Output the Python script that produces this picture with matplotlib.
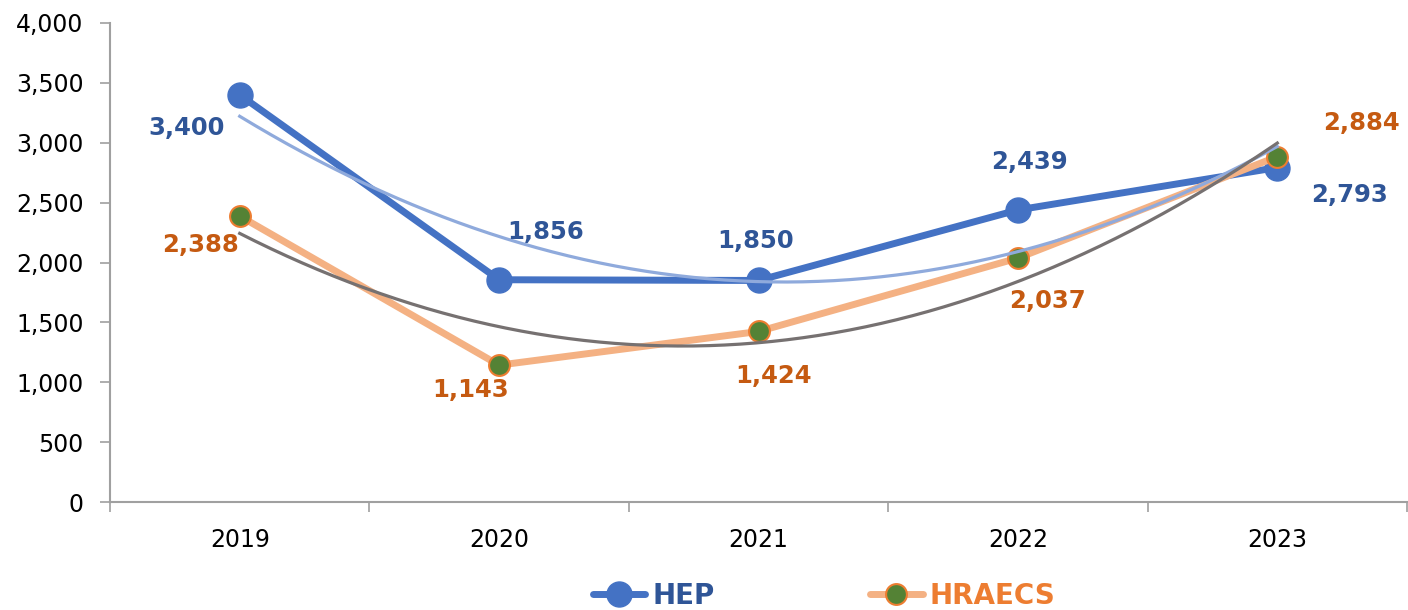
import numpy as np
import matplotlib
matplotlib.use("Agg")
import matplotlib.pyplot as plt
from matplotlib.lines import Line2D
from matplotlib.ticker import FuncFormatter, MultipleLocator, FixedLocator

plt.rcParams['font.family'] = ['DejaVu Sans']

years = ["2019", "2020", "2021", "2022", "2023"]
hep = [3400, 1856, 1850, 2439, 2793]
hraecs = [2388, 1143, 1424, 2037, 2884]

# label offsets in pixels (dx, dy) relative to point
hep_off = [(-53, -33), (47, 48), (-3, 39), (12, 48), (72, -27)]
hra_off = [(-39, -29), (-29, -25), (15, -45), (30, -43), (84, 34)]

C_HEP = "#4472C4"
C_HEP_LBL = "#2F5597"
C_HRA = "#F4B183"
C_HRA_MK = "#548235"
C_HRA_EDGE = "#ED7D31"
C_HRA_LBL = "#C55A11"
C_TR_HEP = "#8FAADC"
C_TR_HRA = "#767171"

fig = plt.figure(figsize=(14.08, 6.10), dpi=100)
ax = fig.add_axes([110/1408, 1 - 502/610, 1 - 110/1408 - 1/1408, (502 - 23)/610])

x = np.arange(len(years))
ax.plot(x, hep, color=C_HEP, lw=5, marker='o', ms=18, mfc=C_HEP, mec=C_HEP, zorder=3,
        solid_capstyle='round')
ax.plot(x, hraecs, color=C_HRA, lw=5, marker='o', ms=15, mfc=C_HRA_MK, mec=C_HRA_EDGE,
        mew=1.5, zorder=3, solid_capstyle='round')

xs = np.linspace(0, 4, 200)
p1 = np.polyfit(x, hep, 2)
p2 = np.polyfit(x, hraecs, 2)
ax.plot(xs, np.polyval(p1, xs), color=C_TR_HEP, lw=2.3, zorder=4)
ax.plot(xs, np.polyval(p2, xs), color=C_TR_HRA, lw=2.3, zorder=4)

for i, v in enumerate(hep):
    dx, dy = hep_off[i]
    ax.annotate(f"{v:,}", (x[i], v), xytext=(dx * 0.72, dy * 0.72), textcoords='offset points',
                ha='center', va='center', fontsize=17.5, fontweight='bold', color=C_HEP_LBL, zorder=5)
for i, v in enumerate(hraecs):
    dx, dy = hra_off[i]
    ax.annotate(f"{v:,}", (x[i], v), xytext=(dx * 0.72, dy * 0.72), textcoords='offset points',
                ha='center', va='center', fontsize=17.5, fontweight='bold', color=C_HRA_LBL, zorder=5)

ax.set_xlim(-0.5, 4.5)
ax.set_ylim(0, 4000)
ax.yaxis.set_major_locator(MultipleLocator(500))
ax.yaxis.set_major_formatter(FuncFormatter(lambda v, p: f"{int(v):,}"))
ax.set_xticks(x)
ax.set_xticklabels(years)
ax.xaxis.set_minor_locator(FixedLocator(np.arange(-0.5, 4.6, 1.0)))
ax.tick_params(axis='x', which='major', length=0, pad=19, labelsize=17, labelcolor='#000000')
ax.tick_params(axis='x', which='minor', length=7, width=1.2, color='#A0A0A0', direction='out')
ax.tick_params(axis='y', which='major', length=7, width=1.2, color='#A0A0A0', pad=12,
               labelsize=17, labelcolor='#000000')
for s in ['top', 'right']:
    ax.spines[s].set_visible(False)
for s in ['left', 'bottom']:
    ax.spines[s].set_color('#A0A0A0')
    ax.spines[s].set_linewidth(1.5)

handles = [
    Line2D([], [], color=C_HEP, lw=5, marker='o', ms=18, mfc=C_HEP, mec=C_HEP, solid_capstyle='round'),
    Line2D([], [], color=C_HRA, lw=5, marker='o', ms=15, mfc=C_HRA_MK, mec=C_HRA_EDGE, mew=1.5,
           solid_capstyle='round'),
]
leg = fig.legend(handles, ["HEP", "HRAECS"], loc='center', bbox_to_anchor=(824/1408, 1 - 596/610),
                 ncol=2, frameon=False, prop={'weight': 'bold', 'size': 20},
                 handlelength=1.9, handletextpad=0.25, columnspacing=5.6)
for t, c in zip(leg.get_texts(), [C_HEP_LBL, C_HRA_EDGE]):
    t.set_color(c)

fig.savefig("out.png", dpi=100)
